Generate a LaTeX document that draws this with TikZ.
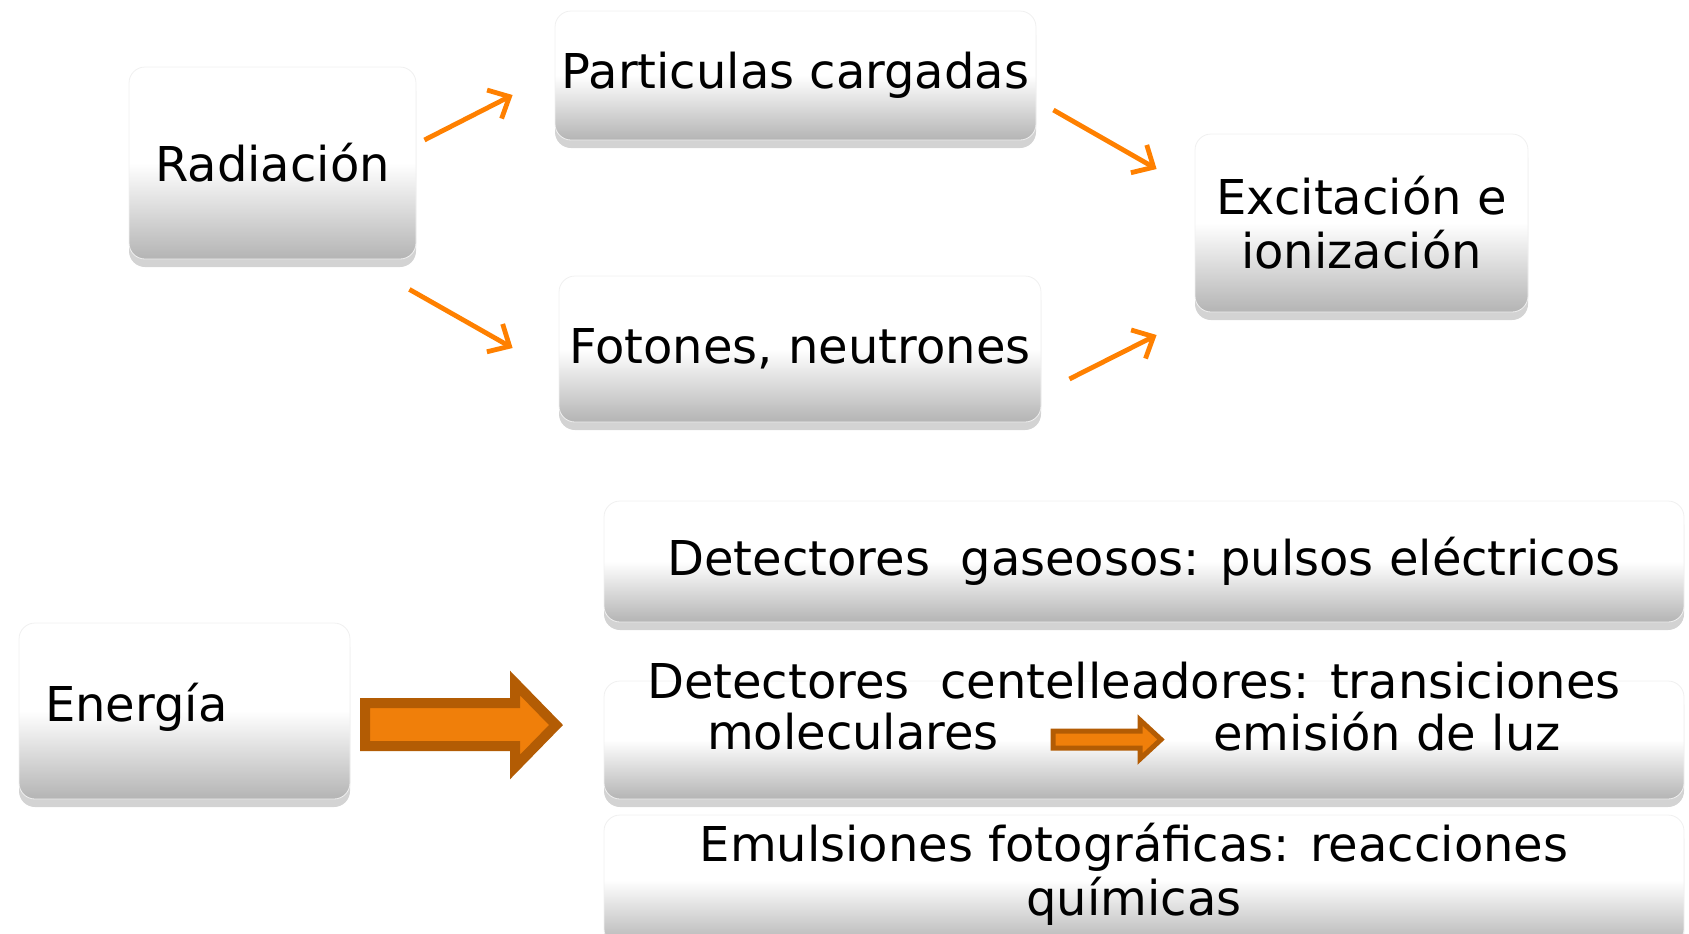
\documentclass[tikz,border=0pt]{standalone}
\usepackage{fontspec}
\setmainfont{DejaVu Sans}
\usetikzlibrary{
    positioning,
    calc,
    arrows.meta,
    shadows
}
\definecolor{NaranjaLinea}{HTML}{FF8000}
\definecolor{NaranjaFlecha}{HTML}{F07F0A}
\definecolor{MarronFlecha}{HTML}{B35C04}
\definecolor{GrisCaja}{HTML}{B4B4B4}

\begin{document}
\begin{tikzpicture}[
        x=0.5pt, y=-0.5pt,
        caja/.style={
            rounded corners=8pt,
            top color=white,
            bottom color=GrisCaja,
            middle color=white,
            draw=black!6,
            drop shadow={shadow xshift=0pt, shadow yshift=-4pt, opacity=.35},
            inner sep=0pt,
            align=center,
            font=\fontsize{24}{27}\selectfont
        },
        texto/.style={
            inner sep=0pt,
            align=center,
            font=\fontsize{24}{27}\selectfont
        },
        flecha/.style={
            draw=NaranjaLinea,
            line width=2.4pt,
            -{Straight Barb[length=8.5pt, width=16pt]}
        },
        bloque/.style={
            fill=NaranjaFlecha,
            draw=MarronFlecha,
            line join=miter
        }
    ]

    \useasboundingbox (0,0) rectangle (1689,933);

    % parte superior
    \node[caja, minimum width=143.5pt, minimum height=96pt]
        (radiacion) at (272.5,163) {Radiación};
    \node[caja, minimum width=240.5pt, minimum height=64.5pt]
        (particulas) at (795.5,75.5) {Particulas cargadas};
    \node[caja, minimum width=241pt, minimum height=73pt]
        (fotones) at (800,349) {Fotones, neutrones};
    \node[caja, minimum width=166.5pt, minimum height=89pt]
        (excitacion) at (1361.5,223) {Excitación e\\ionización};

    \draw[flecha] ($(radiacion.east)+(8,-23)$) -- ($(particulas.west)+(-42,19.5)$);
    \draw[flecha] ($(radiacion.south east)+(-7,30)$) -- ($(fotones.west)+(-46,-1)$);
    \draw[flecha] ($(particulas.east)+(17,34.5)$) -- ($(excitacion.west)+(-38,-54)$);
    \draw[flecha] ($(fotones.east)+(28,30)$) -- ($(excitacion.west)+(-38,112)$);

    % parte inferior
    \node[caja, minimum width=165.5pt, minimum height=88pt]
        (energia) at (184.5,711) {};
    \node[texto, anchor=west]
        (energiatxt) at ($(energia.west)+(26,-4)$) {Energía};

    \node[caja, minimum width=540pt, minimum height=60.5pt]
        (gaseosos) at (1144,561.5) {Detectores\ \ gaseosos: pulsos eléctricos};

    \node[caja, minimum width=540pt, minimum height=59pt]
        (centelleo) at (1144,740) {};
    \node[texto] (centelleotxt) at (1134,681) {Detectores\ \ centelleadores: transiciones};
    \node[texto] (moleculares) at (853,732) {moleculares};
    \node[texto] (luz) at (1387,732) {emisión de luz};

    \node[caja, minimum width=540pt, minimum height=65pt]
        (emulsiones) at (1144,880) {};
    \node[texto] (emulsionestxt) at (1134,874)
        {Emulsiones fotográficas: reacciones\\químicas};

    % flechas gruesas
    \draw[bloque, line width=5pt]
        (365,703) -- (515,703) -- (515,683) -- (556,725)
        -- (515,767) -- (515,746) -- (365,746) -- cycle;
    \draw[bloque, line width=2.5pt]
        (1053,731) -- (1140,731) -- (1140,720) -- (1161,739.5)
        -- (1140,759) -- (1140,748) -- (1053,748) -- cycle;

\end{tikzpicture}
\end{document}
